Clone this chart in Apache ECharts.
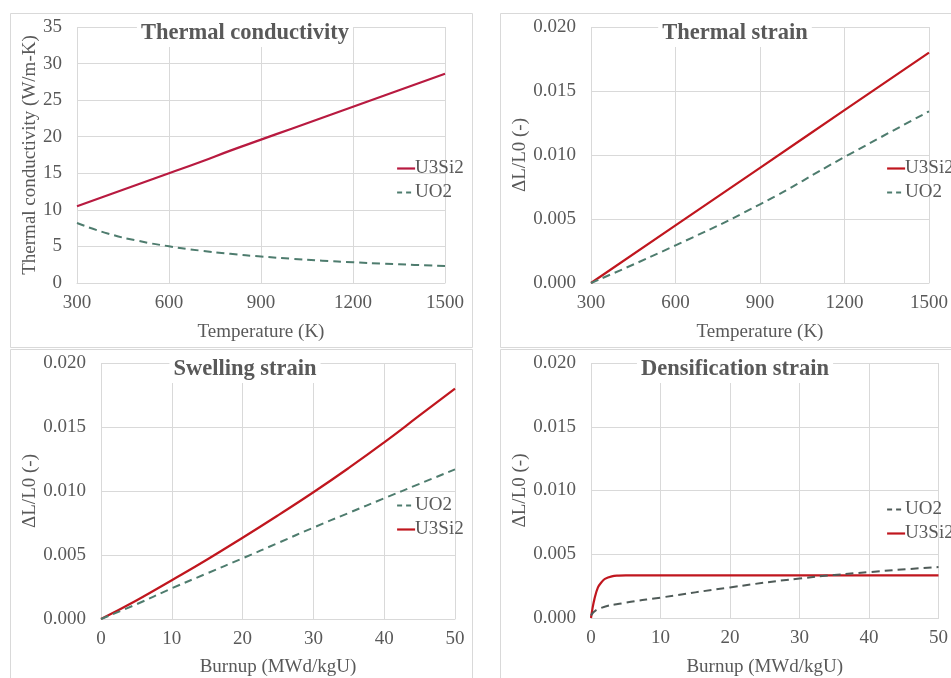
<!DOCTYPE html>
<html>
<head>
<meta charset="utf-8">
<script src="https://cdn.jsdelivr.net/npm/echarts@6/dist/echarts.min.js"></script>
<style>html,body{margin:0;padding:0;background:#fff;}#c{width:951px;height:678px;}</style>
</head>
<body>
<div id="c"></div>
<script>
// Panel 1: thermal conductivity
const tempK = [300, 400, 500, 600, 700, 800, 900, 1000, 1100, 1200, 1300, 1400, 1500];
const kU3Si2 = [10.5, 12.0, 13.5, 15.0, 16.5, 18.1, 19.6, 21.1, 22.6, 24.1, 25.6, 27.1, 28.6];
const kUO2 = [8.2, 6.77, 5.76, 5.02, 4.44, 3.99, 3.62, 3.31, 3.05, 2.83, 2.64, 2.47, 2.32];
// Panel 2: thermal strain
const thTemp = [300, 600, 900, 1200, 1500];
const thU3Si2 = [0.0, 0.0045, 0.0090, 0.0135, 0.0180];
const thUO2 = [0.0, 0.00294, 0.00615, 0.00984, 0.01341];
// Panel 3: swelling strain
const swBurnup = [0, 5, 10, 15, 20, 25, 30, 35, 40, 45, 50];
const swU3Si2 = [0.0, 0.00145, 0.00303, 0.00465, 0.00635, 0.0081, 0.0099, 0.0118, 0.0138, 0.0159, 0.0180];
const swUO2 = [0.0, 0.00115, 0.0024, 0.00357, 0.00474, 0.00594, 0.00714, 0.00829, 0.00943, 0.01056, 0.01169];
// Panel 4: densification strain
const deBurnupU3Si2 = [0, 0.2, 0.5, 1, 1.5, 2, 3, 4, 5, 6, 8, 10, 20, 30, 40, 50];
const deU3Si2 = [0.0, 0.0007, 0.0015, 0.0024, 0.0028, 0.00307, 0.00327, 0.00333, 0.00335, 0.00335, 0.00335, 0.00335, 0.00335, 0.00335, 0.00335, 0.00335];
const deBurnupUO2 = [0, 1, 5, 10, 20, 30, 40, 50];
const deUO2 = [0.0002, 0.0007, 0.0012, 0.0016, 0.0024, 0.0031, 0.0036, 0.0040];

const titles = ['Thermal conductivity', 'Thermal strain', 'Swelling strain', 'Densification strain'];
const xNames = ['Temperature (K)', 'Temperature (K)', 'Burnup (MWd/kgU)', 'Burnup (MWd/kgU)'];
const yNames = ['Thermal conductivity (W/m-K)', '\u0394L/L0 (-)', '\u0394L/L0 (-)', '\u0394L/L0 (-)'];

const FONT = '"Liberation Serif", "Times New Roman", serif';
const GRAY = '#595959';
const GRID = '#D9D9D9';
const RED1 = '#B81A40';
const RED = '#C0161E';
const GREEN = '#4E7C6E';
const DARK = '#4F5B58';

const pair = (xs, ys) => xs.map((x, i) => [x, ys[i]]);

const grids = [
  {left: 77, top: 27, width: 368, height: 256},
  {left: 591, top: 27, width: 344, height: 256},
  {left: 101, top: 363, width: 354, height: 256},
  {left: 591, top: 363, width: 353, height: 258}
];
const titleCenters = [[241, 20], [731, 20], [241, 356], [731, 356]];
const xNameGaps = [40, 40, 39, 40];
const yNameGaps = [32, 55, 55, 55];
const xRanges = [[300, 1500, 300], [300, 1500, 300], [0, 50, 10], [0, 50, 10]];
const yRanges = [[0, 35, 5], [0, 0.02, 0.005], [0, 0.02, 0.005], [0, 0.02, 0.005]];

const xAxis = grids.map((g, i) => ({
  type: 'value', gridIndex: i,
  min: xRanges[i][0], max: xRanges[i][1], interval: xRanges[i][2],
  name: xNames[i], nameLocation: 'middle', nameGap: xNameGaps[i],
  nameTextStyle: {fontFamily: FONT, fontSize: 19, color: GRAY},
  axisLine: {show: true, lineStyle: {color: GRID, width: 1}},
  axisTick: {show: false},
  axisLabel: {fontFamily: FONT, fontSize: 19, color: GRAY, margin: 11, formatter: v => String(v)},
  splitLine: {show: true, lineStyle: {color: GRID, width: 1}}
}));
const yAxis = grids.map((g, i) => ({
  type: 'value', gridIndex: i,
  min: yRanges[i][0], max: yRanges[i][1], interval: yRanges[i][2],
  name: yNames[i], nameLocation: 'middle', nameGap: yNameGaps[i],
  nameTextStyle: {fontFamily: FONT, fontSize: 19, color: GRAY},
  axisLine: {show: false},
  axisTick: {show: false},
  axisLabel: {fontFamily: FONT, fontSize: 19, color: GRAY, margin: 15,
    formatter: i === 0 ? (v => String(v)) : (v => v.toFixed(3))},
  splitLine: {show: true, lineStyle: {color: GRID, width: 1}}
}));

const solid = c => ({color: c, width: 2.2, type: 'solid'});
const dashed = c => ({color: c, width: 2, type: [8, 5]});

const series = [
  {name: 'U3Si2', type: 'line', xAxisIndex: 0, yAxisIndex: 0, data: pair(tempK, kU3Si2), showSymbol: false, symbol: 'none', smooth: true, lineStyle: solid(RED1), itemStyle: {color: RED1}},
  {name: 'UO2', type: 'line', xAxisIndex: 0, yAxisIndex: 0, data: pair(tempK, kUO2), showSymbol: false, symbol: 'none', smooth: true, lineStyle: dashed(GREEN), itemStyle: {color: GREEN}},
  {name: 'U3Si2', type: 'line', xAxisIndex: 1, yAxisIndex: 1, data: pair(thTemp, thU3Si2), showSymbol: false, symbol: 'none', smooth: true, lineStyle: solid(RED), itemStyle: {color: RED}},
  {name: 'UO2', type: 'line', xAxisIndex: 1, yAxisIndex: 1, data: pair(thTemp, thUO2), showSymbol: false, symbol: 'none', smooth: true, lineStyle: dashed(GREEN), itemStyle: {color: GREEN}},
  {name: 'U3Si2', type: 'line', xAxisIndex: 2, yAxisIndex: 2, data: pair(swBurnup, swU3Si2), showSymbol: false, symbol: 'none', smooth: true, lineStyle: solid(RED), itemStyle: {color: RED}},
  {name: 'UO2', type: 'line', xAxisIndex: 2, yAxisIndex: 2, data: pair(swBurnup, swUO2), showSymbol: false, symbol: 'none', smooth: true, lineStyle: dashed(GREEN), itemStyle: {color: GREEN}},
  {name: 'U3Si2', type: 'line', xAxisIndex: 3, yAxisIndex: 3, data: pair(deBurnupU3Si2, deU3Si2), showSymbol: false, symbol: 'none', smooth: 0.4, lineStyle: solid(RED), itemStyle: {color: RED}},
  {name: 'UO2', type: 'line', xAxisIndex: 3, yAxisIndex: 3, data: pair(deBurnupUO2, deUO2), showSymbol: false, symbol: 'none', smooth: true, lineStyle: dashed(DARK), itemStyle: {color: DARK}}
];

const legendPos = [[391, 154], [881, 154], [391, 491], [881, 495]];
const legendOrder = [['U3Si2', 'UO2'], ['U3Si2', 'UO2'], ['UO2', 'U3Si2'], ['UO2', 'U3Si2']];
const legendStyles = [
  {U3Si2: solid(RED1), UO2: dashed(GREEN)},
  {U3Si2: solid(RED), UO2: dashed(GREEN)},
  {U3Si2: solid(RED), UO2: dashed(GREEN)},
  {U3Si2: solid(RED), UO2: dashed(DARK)}
];
const legend = legendPos.map((p, i) => ({
  orient: 'vertical', left: p[0], top: p[1], itemWidth: 18, itemHeight: 14, itemGap: 5,
  selectedMode: false,
  textStyle: {fontFamily: FONT, fontSize: 19, color: GRAY, padding: [0, 0, 0, -5]},
  data: legendOrder[i].map(n => ({
    name: n,
    lineStyle: {color: legendStyles[i][n].color, width: 2.2, type: n === 'UO2' ? [5, 4] : 'solid'},
    itemStyle: {color: 'rgba(0,0,0,0)', borderColor: 'rgba(0,0,0,0)', borderWidth: 0, opacity: 0}
  }))
}));

const title = titles.map((t, i) => ({
  text: t, left: titleCenters[i][0], top: titleCenters[i][1], textAlign: 'center',
  backgroundColor: '#ffffff', padding: [2, 4],
  textStyle: {fontFamily: FONT, fontSize: 22.5, fontWeight: 'bold', color: GRAY}
}));

const graphic = [
  {type: 'rect', shape: {x: 10.5, y: 13.5, width: 462, height: 334}, style: {fill: 'none', stroke: GRID, lineWidth: 1}, z: -10},
  {type: 'rect', shape: {x: 500.5, y: 13.5, width: 470, height: 334}, style: {fill: 'none', stroke: GRID, lineWidth: 1}, z: -10},
  {type: 'rect', shape: {x: 10.5, y: 349.5, width: 462, height: 340}, style: {fill: 'none', stroke: GRID, lineWidth: 1}, z: -10},
  {type: 'rect', shape: {x: 500.5, y: 349.5, width: 470, height: 340}, style: {fill: 'none', stroke: GRID, lineWidth: 1}, z: -10}
];

const chart = echarts.init(document.getElementById('c'), null, {renderer: 'canvas'});
chart.setOption({
  backgroundColor: '#ffffff',
  animation: false,
  title, legend, graphic,
  grid: grids,
  xAxis, yAxis, series
});
</script>
</body>
</html>
